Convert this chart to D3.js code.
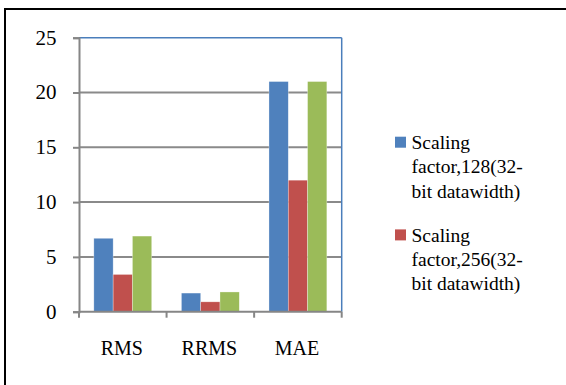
<!DOCTYPE html>
<html>
<head>
<meta charset="utf-8">
<script src="https://cdn.jsdelivr.net/npm/d3@7"></script>
<style>
  html, body { margin: 0; padding: 0; background: #fff; font-family: 'Liberation Serif', serif; }
  svg { display: block; font-family: 'Liberation Serif', serif; }
</style>
</head>
<body>
<svg id="chart" width="566" height="385"></svg>
<script>
const categories = ["RMS", "RRMS", "MAE"];
const seriesNames = ["Scaling factor,128(32-bit datawidth)", "Scaling factor,256(32-bit datawidth)", "Series 3"];
const series128 = [6.7, 1.7, 21.0];
const series256 = [3.4, 0.9, 12.0];
const series3 = [6.9, 1.8, 21.0];
const yTicks = [0, 5, 10, 15, 20, 25];
const legendLines = [
  ["Scaling", "factor,128(32-", "bit datawidth)"],
  ["Scaling", "factor,256(32-", "bit datawidth)"]
];
const colors = ["#4F81BD", "#C0504D", "#9BBB59"];

const allSeries = [series128, series256, series3];
const svg = d3.select("#chart");
const FONT = "Liberation Serif";

// outer frame
svg.append("rect").attr("x", 5).attr("y", 9).attr("width", 600).attr("height", 400)
  .attr("fill", "none").attr("stroke", "#000").attr("stroke-width", 2);

const pLeft = 79, pRight = 341.7, pTop = 37.7, pBottom = 311.7;
const y = d3.scaleLinear().domain([0, 25]).range([pBottom, pTop]);
const x0 = d3.scaleBand().domain(categories).range([pLeft, pRight]).padding(0);
const x1 = d3.scaleBand().domain(d3.range(3)).range([0, x0.bandwidth()]).paddingInner(0).paddingOuter(0.77);

// gridlines
svg.append("g").selectAll("line").data(yTicks.filter(d => d > 0 && d < 25)).join("line")
  .attr("x1", pLeft).attr("x2", pRight).attr("y1", d => y(d)).attr("y2", d => y(d))
  .attr("stroke", "#8a8a8a").attr("stroke-width", 2);

// plot border top/right (blue)
svg.append("line").attr("x1", pLeft).attr("x2", pRight).attr("y1", y(25)).attr("y2", y(25))
  .attr("stroke", "#4A7EBB").attr("stroke-width", 1.5);
svg.append("line").attr("x1", pRight).attr("x2", pRight).attr("y1", y(25)).attr("y2", y(0))
  .attr("stroke", "#4A7EBB").attr("stroke-width", 1.5);

// bars
const groups = svg.append("g").selectAll("g").data(categories).join("g")
  .attr("transform", d => `translate(${x0(d)},0)`);
groups.selectAll("rect").data((c, ci) => allSeries.map((s, si) => ({ si, v: s[ci] }))).join("rect")
  .attr("x", d => x1(d.si)).attr("width", x1.bandwidth())
  .attr("y", d => y(d.v)).attr("height", d => y(0) - y(d.v))
  .attr("fill", d => colors[d.si])
  .attr("stroke", "rgba(255,255,255,0.5)").attr("stroke-width", 0.6);

// y axis
const yAxis = svg.append("g").attr("transform", `translate(${pLeft},0)`)
  .call(d3.axisLeft(y).tickValues(yTicks).tickSize(6).tickFormat(""));
yAxis.select(".domain").attr("stroke", "#868686").attr("stroke-width", 2);
yAxis.selectAll(".tick line").attr("stroke", "#868686").attr("stroke-width", 2);

// y labels
svg.append("g").selectAll("text").data(yTicks).join("text")
  .attr("x", 56.5).attr("y", d => y(d) + 6.8)
  .attr("font-family", FONT).attr("fill", "#000")
  .attr("text-anchor", "end").attr("font-size", 21).text(d => d);

// x axis
const boundaries = categories.map(c => x0(c)).concat([pRight]);
svg.append("line").attr("x1", pLeft).attr("x2", pRight).attr("y1", y(0)).attr("y2", y(0))
  .attr("stroke", "#868686").attr("stroke-width", 2);
svg.append("g").selectAll("line").data(boundaries).join("line")
  .attr("x1", d => d).attr("x2", d => d).attr("y1", y(0)).attr("y2", y(0) + 6)
  .attr("stroke", "#868686").attr("stroke-width", 2);

// x labels
svg.append("g").selectAll("text").data(categories).join("text")
  .attr("x", d => x0(d) + x0.bandwidth() / 2 - 1).attr("y", 355)
  .attr("font-family", FONT).attr("fill", "#000")
  .attr("text-anchor", "middle").attr("font-size", 20).text(d => d);

// legend
const legendTop = [149, 241.7];
legendLines.forEach((lines, i) => {
  svg.append("rect").attr("x", 395).attr("y", legendTop[i] - 12.3).attr("width", 11).attr("height", 11)
    .attr("fill", colors[i]);
  lines.forEach((t, j) => {
    svg.append("text")
      .attr("x", 411.5).attr("y", legendTop[i] + j * 24.3)
      .attr("font-family", FONT).attr("fill", "#000")
      .attr("font-size", 19.5).text(t);
  });
});
</script>
</body>
</html>
